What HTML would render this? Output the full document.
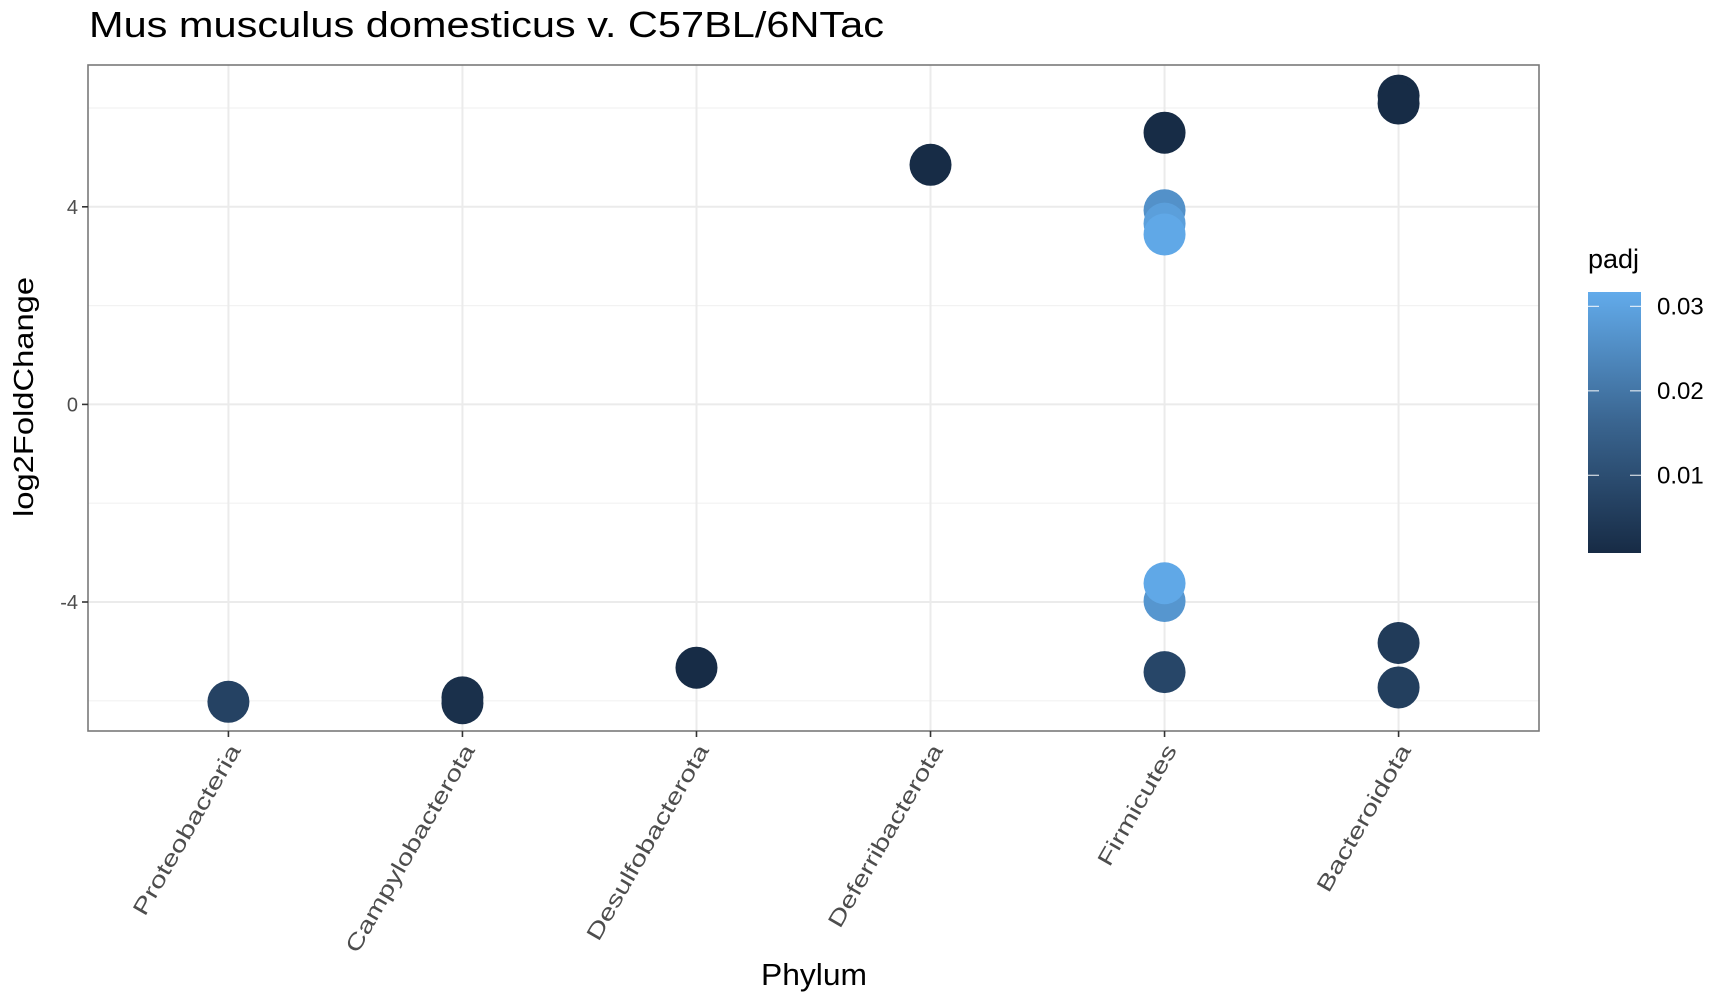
<!DOCTYPE html>
<html><head><meta charset="utf-8"><style>
html,body{margin:0;padding:0;background:#fff;}
svg{display:block;font-family:"Liberation Sans",sans-serif;}
</style></head><body>
<svg id="chart" width="1736" height="1002" viewBox="0 0 1736 1002">
<text x="89" y="37" font-size="36" fill="#000" textLength="795" lengthAdjust="spacingAndGlyphs">Mus musculus domesticus v. C57BL/6NTac</text>
<g id="grid"></g>
<g id="points"></g>
<rect x="88" y="65" width="1451" height="666" fill="none" stroke="#7a7a7a" stroke-width="1.6"/>
<g id="axes"></g>
<text transform="translate(33,397) rotate(-90)" text-anchor="middle" font-size="28" fill="#000" textLength="240" lengthAdjust="spacingAndGlyphs">log2FoldChange</text>
<text x="814" y="985" text-anchor="middle" font-size="31" fill="#000" textLength="106" lengthAdjust="spacingAndGlyphs">Phylum</text>
<g id="legend">
<defs><linearGradient id="grad" x1="0" y1="1" x2="0" y2="0">
<stop offset="0" stop-color="#172B45"/><stop offset="0.5" stop-color="#3A6590"/><stop offset="1" stop-color="#62ABEB"/></linearGradient></defs>
<text x="1597" y="268" font-size="27" fill="#000">padj</text>
<rect x="1597" y="292" width="53" height="261" fill="url(#grad)"/>
</g>
</svg>
<script>
const categories = ["Proteobacteria","Campylobacterota","Desulfobacterota","Deferribacterota","Firmicutes","Bacteroidota"];
const labelLengths = [193,236,222,207,136,166];
const pointCats = [0,1,1,2,3,4,4,4,4,4,4,4,5,5,5,5];
const pointLfc = [-6.02,-5.93,-6.05,-5.33,4.85,5.5,3.93,3.66,3.44,-3.98,-3.62,-5.42,6.25,6.09,-4.83,-5.73];
const pointPadj = [0.007,0.002,0.002,0.001,0.001,0.001,0.026,0.029,0.031,0.027,0.031,0.008,0.001,0.001,0.005,0.006];
const yTicks = [-4,0,4];
const yMinor = [-6,-2,2,6];
const legendTicks = [0.01,0.02,0.03];
const padjMin = 0.0008, padjMax = 0.0317;

const NS="http://www.w3.org/2000/svg";
const L=88,R=1539,T=65,B=731;
const step=(R-L)/(categories.length-1+1.2);
function xs(i){return L+0.6*step+i*step;}
function ys(v){return 404.4-v*49.4;}
function lys(p){return 553-(p-padjMin)/(padjMax-padjMin)*261;}
function col(p){
  let t=Math.max(0,Math.min(1,(p-padjMin)/(padjMax-padjMin)));
  const a=[0x17,0x2B,0x45],m=[0x3A,0x65,0x90],b=[0x62,0xAB,0xEB];
  let c;
  if(t<0.5){const u=t*2;c=a.map((v,k)=>Math.round(v+(m[k]-v)*u));}
  else{const u=(t-0.5)*2;c=m.map((v,k)=>Math.round(v+(b[k]-v)*u));}
  return "rgb("+c.join(",")+")";
}
function mk(tag,attrs,parent){const e=document.createElementNS(NS,tag);for(const k in attrs)e.setAttribute(k,attrs[k]);parent.appendChild(e);return e;}
const grid=document.getElementById("grid"),pts=document.getElementById("points"),axes=document.getElementById("axes"),leg=document.getElementById("legend");
mk("rect",{x:L,y:T,width:R-L,height:B-T,fill:"#fff"},grid);
yMinor.forEach(v=>{const y=ys(v);if(y<T||y>B)return;
  const e=mk("line",{x1:L,x2:R,y1:y,y2:y,stroke:"#f2f2f2","stroke-width":1.2},grid);
  
  });
yTicks.forEach(v=>{const y=ys(v);
  const e=mk("line",{x1:L,x2:R,y1:y,y2:y,stroke:"#ebebeb","stroke-width":2},grid);
  
  
  const tk=mk("line",{x1:L-6,x2:L,y1:y,y2:y,stroke:"#333","stroke-width":1.6},axes);
  
  
  const t=mk("text",{x:L-10,y:y+7,"text-anchor":"end","font-size":20,fill:"#4d4d4d"},axes);
  
  
  t.textContent=String(v);});
categories.forEach((c,i)=>{const x=xs(i);
  const e=mk("line",{x1:x,x2:x,y1:T,y2:B,stroke:"#ebebeb","stroke-width":2},grid);
  
  
  const tk=mk("line",{x1:x,x2:x,y1:B,y2:B+6,stroke:"#333","stroke-width":1.6},axes);
  
  
  const t=mk("text",{transform:"translate("+(x+13)+","+(B+19)+") rotate(-60)","text-anchor":"end","font-size":22,fill:"#4d4d4d",textLength:labelLengths[i],lengthAdjust:"spacingAndGlyphs"},axes);
  
  
  t.textContent=c;});
pointLfc.forEach((v,i)=>{
  const e=mk("circle",{cx:xs(pointCats[i]),cy:ys(v),r:21,fill:col(pointPadj[i])},pts);
  
  });
leg.setAttribute('transform','translate(-9,0)');
legendTicks.forEach(p=>{const y=lys(p);
  const a=mk("line",{x1:1597,x2:1608,y1:y,y2:y,stroke:"#fff","stroke-width":1.2,opacity:0.8},leg);
  
  
  const b=mk("line",{x1:1639,x2:1650,y1:y,y2:y,stroke:"#fff","stroke-width":1.2,opacity:0.8},leg);
  
  
  const t=mk("text",{x:1666,y:y+8,"font-size":24,fill:"#000"},leg);
  
  
  t.textContent=p.toFixed(2);});
</script>
</body></html>
